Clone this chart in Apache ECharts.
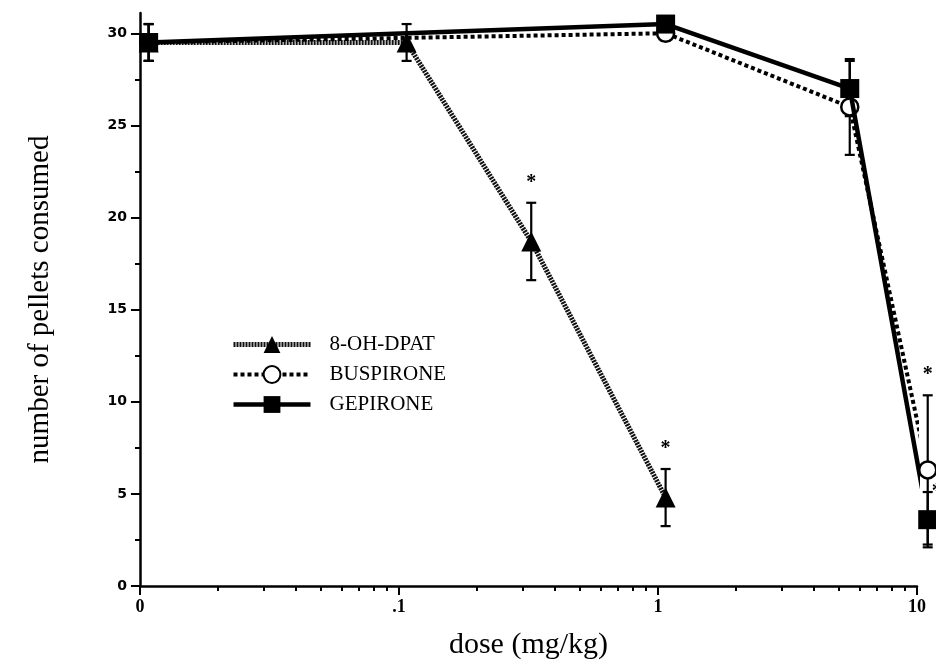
<!DOCTYPE html>
<html>
<head>
<meta charset="utf-8">
<script src="https://cdn.jsdelivr.net/npm/echarts@6/dist/echarts.min.js"></script>
<style>
  html, body { margin: 0; padding: 0; background: #fff; }
  #chart { width: 936px; height: 665px; }
</style>
</head>
<body>
<div id="chart"></div>
<script>
// drug names (legend order)
const drugNames = ['8-OH-DPAT', 'BUSPIRONE', 'GEPIRONE']

// 8-OH-DPAT: dose (mg/kg), mean pellets, error, significance mark (0 none, 1 above, 2 at side)
const dpatDose = [0.0108, 0.107, 0.324, 1.07]
const dpatMean = [29.5, 29.5, 18.7, 4.8]
const dpatErr = [1.0, 1.0, 2.1, 1.55]
const dpatSig = [0, 0, 1, 1]

// buspirone
const buspDose = [0.0108, 1.07, 5.5, 11]
const buspMean = [29.5, 30.0, 26.0, 6.3]
const buspErr = [1.0, 0.4, 2.6, 4.05]
const buspSig = [0, 0, 0, 1]

// gepirone
const gepDose = [0.0108, 1.07, 5.5, 11]
const gepMean = [29.5, 30.5, 27.0, 3.6]
const gepErr = [1.0, 0.4, 1.5, 1.5]
const gepSig = [0, 0, 0, 2]

// axis ticks
const yMajorTicks = [0, 5, 10, 15, 20, 25, 30]
const yMinorTicks = [2.5, 7.5, 12.5, 17.5, 22.5, 27.5]
const xMajorDoses = [0.01, 0.1, 1, 10]
const xTickLabels = ['0', '.1', '1', '10']
const xMinorDoses = [0.02, 0.03, 0.04, 0.05, 0.06, 0.07, 0.08, 0.09,
  0.2, 0.3, 0.4, 0.5, 0.6, 0.7, 0.8, 0.9,
  2, 3, 4, 5, 6, 7, 8, 9]

const lg = (v) => Math.log10(v)
const serif = '"Liberation Serif", "DejaVu Serif", serif'

function points(dose, mean) {
  return dose.map((d, i) => [lg(d), mean[i]])
}
function errPoints(dose, mean, err, sig) {
  return dose.map((d, i) => [lg(d), mean[i], err[i], sig[i]])
}

function renderErr(params, api) {
  const x = api.value(0)
  const m = api.value(1)
  const e = api.value(2)
  const sig = api.value(3)
  const top = api.coord([x, m + e])
  const bot = api.coord([x, m - e])
  const mid = api.coord([x, m])
  const half = 5
  const st = { stroke: '#000', lineWidth: 2.2 }
  const children = [
    { type: 'line', shape: { x1: top[0], y1: top[1], x2: bot[0], y2: bot[1] }, style: st },
    { type: 'line', shape: { x1: top[0] - half, y1: top[1], x2: top[0] + half, y2: top[1] }, style: st },
    { type: 'line', shape: { x1: bot[0] - half, y1: bot[1], x2: bot[0] + half, y2: bot[1] }, style: st }
  ]
  const star = { text: '*', font: 'bold 20px ' + serif, fill: '#000', align: 'center', verticalAlign: 'middle' }
  if (sig === 1) {
    children.push({ type: 'text', x: top[0], y: top[1] - 20, style: star })
  } else if (sig === 2) {
    children.push({ type: 'text', x: mid[0] + 9, y: mid[1] - 28, style: star })
  }
  return { type: 'group', children: children }
}

function errSeries(name, data) {
  return {
    name: name,
    type: 'custom',
    renderItem: renderErr,
    encode: { x: 0, y: 1 },
    data: data,
    clip: false,
    silent: true,
    z: 1
  }
}

const chart = echarts.init(document.getElementById('chart'), null, { renderer: 'canvas' })

chart.setOption({
  animation: false,
  backgroundColor: '#fff',
  grid: { left: 140, right: 19, top: 13, bottom: 77 },
  legend: {
    data: [
      { name: drugNames[0], lineStyle: { width: 5 } },
      { name: drugNames[1], lineStyle: { width: 4 } },
      { name: drugNames[2], lineStyle: { width: 4.5 } }
    ],
    orient: 'vertical',
    left: 226,
    top: 329,
    itemWidth: 77,
    itemHeight: 21,
    itemGap: 9,
    textStyle: { fontFamily: serif, fontSize: 21, color: '#000', padding: [0, 0, 0, 14] },
    selectedMode: false
  },
  xAxis: [{
    type: 'value',
    min: lg(xMajorDoses[0]),
    max: lg(xMajorDoses[xMajorDoses.length - 1]),
    interval: 1,
    name: 'dose (mg/kg)',
    nameLocation: 'middle',
    nameGap: 44,
    nameTextStyle: { fontFamily: serif, fontSize: 30, color: '#000' },
    axisLine: { onZero: false, lineStyle: { color: '#000', width: 2.5 } },
    axisTick: { length: 9, lineStyle: { color: '#000', width: 2 } },
    axisLabel: {
      margin: 12,
      fontFamily: serif,
      fontSize: 18,
      fontWeight: 'bold',
      color: '#000',
      formatter: function(v) {
        const i = xMajorDoses.findIndex((d) => Math.abs(lg(d) - v) < 1e-6)
        return i >= 0 ? xTickLabels[i] : ''
      }
    },
    splitLine: { show: false }
  }, {
    type: 'value',
    min: lg(xMajorDoses[0]),
    max: lg(xMajorDoses[xMajorDoses.length - 1]),
    position: 'bottom',
    axisLine: { show: false, onZero: false },
    axisTick: { length: 5, customValues: xMinorDoses.map(lg), lineStyle: { color: '#000', width: 2 } },
    axisLabel: { show: false },
    splitLine: { show: false }
  }],
  yAxis: [{
    type: 'value',
    min: 0,
    max: 31.1,
    name: 'number of pellets consumed',
    nameLocation: 'middle',
    nameGap: 85,
    nameTextStyle: { fontFamily: serif, fontSize: 29, color: '#000' },
    axisLine: { show: true, onZero: false, lineStyle: { color: '#000', width: 2.5 } },
    axisTick: { length: 9, customValues: yMajorTicks, lineStyle: { color: '#000', width: 2 } },
    axisLabel: { margin: 13, customValues: yMajorTicks, fontFamily: '"DejaVu Sans", sans-serif', fontSize: 14, fontWeight: 'bold', color: '#000' },
    splitLine: { show: false }
  }, {
    type: 'value',
    min: 0,
    max: 31.1,
    position: 'left',
    axisLine: { show: false, onZero: false },
    axisTick: { show: true, length: 5, customValues: yMinorTicks, lineStyle: { color: '#000', width: 2 } },
    axisLabel: { show: false },
    splitLine: { show: false }
  }],
  series: [
    errSeries('err-dpat', errPoints(dpatDose, dpatMean, dpatErr, dpatSig)),
    errSeries('err-busp', errPoints(buspDose, buspMean, buspErr, buspSig)),
    errSeries('err-gep', errPoints(gepDose, gepMean, gepErr, gepSig)),
    {
      name: drugNames[0],
      type: 'line',
      data: points(dpatDose, dpatMean),
      clip: false,
      z: 3,
      symbol: 'triangle',
      symbolSize: 20,
      lineStyle: { color: '#111', width: 5, type: [2, 1] },
      itemStyle: { color: '#000' }
    },
    {
      name: drugNames[1],
      type: 'line',
      data: points(buspDose, buspMean),
      clip: false,
      z: 4,
      symbol: 'circle',
      symbolSize: 17,
      lineStyle: { color: '#000', width: 4, type: [4, 3] },
      itemStyle: { color: '#fff', borderColor: '#000', borderWidth: 2.5 }
    },
    {
      name: drugNames[2],
      type: 'line',
      data: points(gepDose, gepMean),
      clip: false,
      z: 5,
      symbol: 'rect',
      symbolSize: 19,
      lineStyle: { color: '#000', width: 4.5 },
      itemStyle: { color: '#000' }
    }
  ]
})
</script>
</body>
</html>
